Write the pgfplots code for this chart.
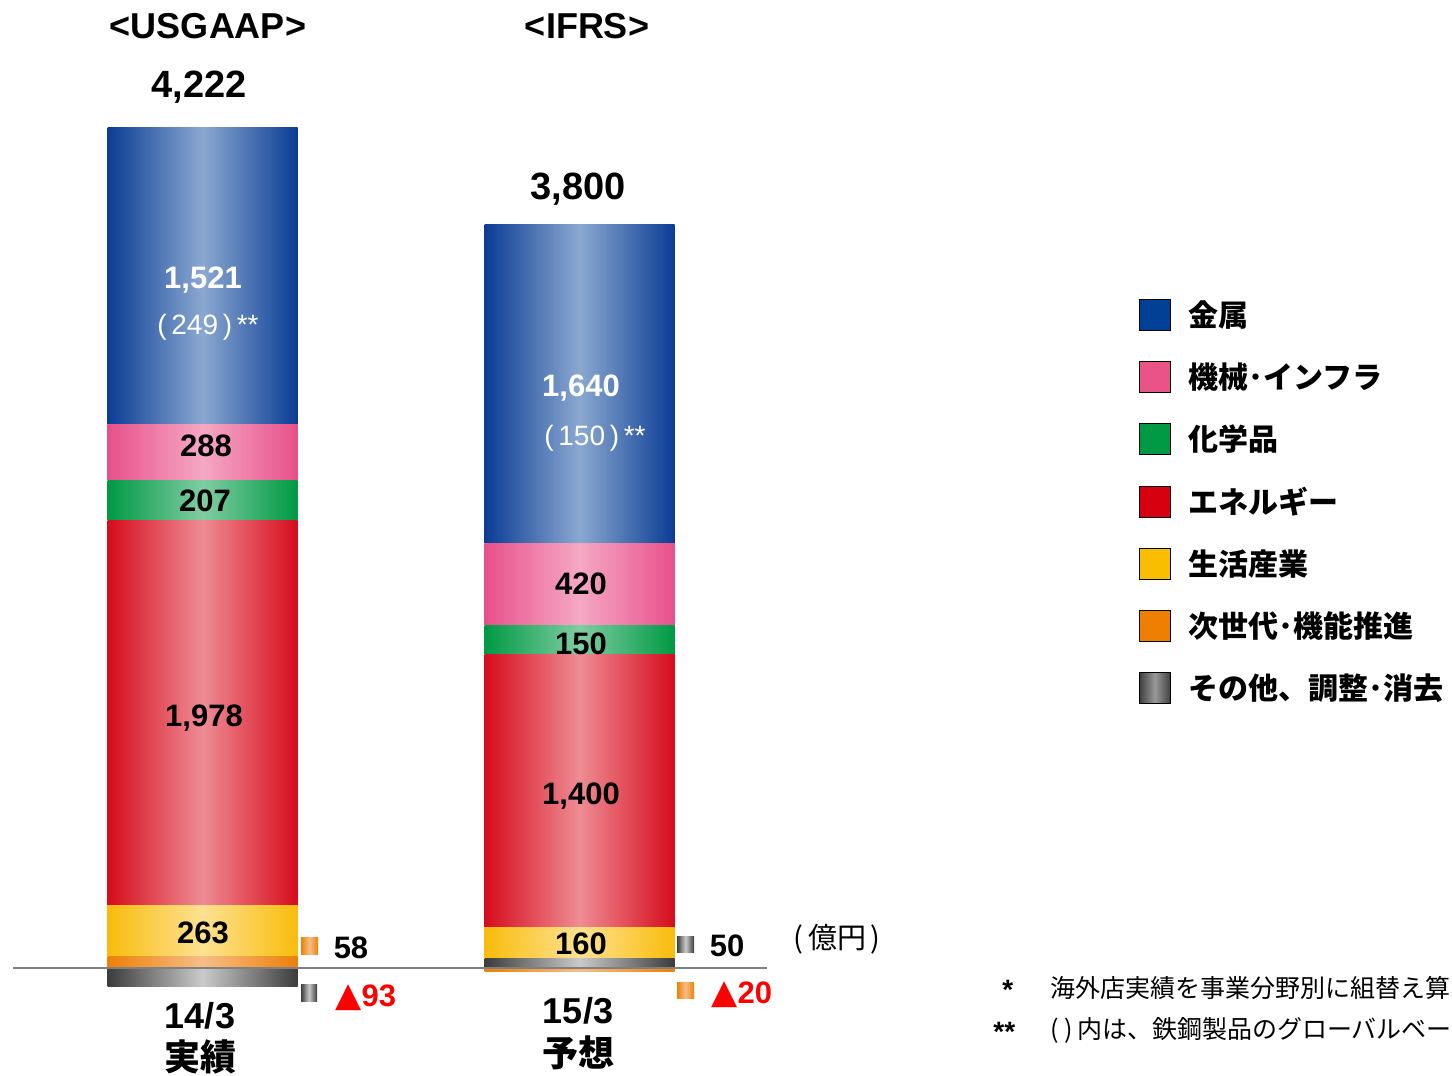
\documentclass[border=0pt]{standalone}
\usepackage{fontspec}
\setmainfont{Liberation Sans}
\newfontfamily\jp{Noto Sans CJK JP}
\newfontfamily\dejavu{DejaVu Sans}
\usepackage{pgfplots}
\pgfplotsset{compat=1.18}
\newcommand\fsz[1]{\fontsize{#1}{#1}\selectfont}
\definecolor{metE}{HTML}{0B3C95}\definecolor{metM}{HTML}{8AA8D0}
\definecolor{macE}{HTML}{E8508A}\definecolor{macM}{HTML}{F5A8C4}
\definecolor{chemE}{HTML}{009944}\definecolor{chemM}{HTML}{80CDA2}
\definecolor{engE}{HTML}{D60C1C}\definecolor{engM}{HTML}{EE8C94}
\definecolor{lifE}{HTML}{F9BC0C}\definecolor{lifM}{HTML}{FDE190}
\definecolor{nxtE}{HTML}{EE8006}\definecolor{nxtM}{HTML}{F6BE88}
\definecolor{othE}{HTML}{3C3C3C}\definecolor{othM}{HTML}{CACACA}
\definecolor{metL}{HTML}{004097}\definecolor{macL}{HTML}{E95388}
\definecolor{chemL}{HTML}{009944}\definecolor{engL}{HTML}{D7000F}
\definecolor{lifL}{HTML}{FABE00}\definecolor{nxtL}{HTML}{EE7F00}
\tikzset{sh/.style 2 args={left color=#1, right color=#1, middle color=#2, draw=none}}
\pgfplotsset{base/.style={scale only axis, width=726pt, height=538pt,
  xmin=0, xmax=1452, ymin=-555, ymax=4972, hide axis, at={(0pt,0pt)}, anchor=south west,
  clip=false, bar width=190}}
\pgfplotsset{sqlegend/.style={legend image code/.code={\path[#1] (0pt,-7.75pt) rectangle (15.5pt,7.75pt); \path (0pt,-15.35pt) (22.5pt,15.35pt);}}}
\begin{document}
\begin{tikzpicture}
\path[use as bounding box] (0pt,0pt) rectangle (726pt,538pt);
% bar 14/3, positive part
\begin{axis}[base, ybar stacked]
\addplot[sh={nxtE}{nxtM}] coordinates {(202.5,58)};
\addplot[sh={lifE}{lifM}] coordinates {(202.5,263)};
\addplot[sh={engE}{engM}] coordinates {(202.5,1978)};
\addplot[sh={chemE}{chemM}] coordinates {(202.5,207)};
\addplot[sh={macE}{macM}] coordinates {(202.5,288)};
\addplot[sh={metE}{metM}] coordinates {(202.5,1521)};
\end{axis}
% bar 15/3, positive part
\begin{axis}[base, ybar stacked]
\addplot[sh={othE}{othM}] coordinates {(579.5,50)};
\addplot[sh={lifE}{lifM}] coordinates {(579.5,160)};
\addplot[sh={engE}{engM}] coordinates {(579.5,1400)};
\addplot[sh={chemE}{chemM}] coordinates {(579.5,150)};
\addplot[sh={macE}{macM}] coordinates {(579.5,420)};
\addplot[sh={metE}{metM}] coordinates {(579.5,1640)};
\end{axis}
% negative parts, zero line, legend
\begin{axis}[base, ybar, bar shift=0pt,
  legend style={at={(0.78444,0.7362)}, anchor=north west, draw=none, fill=none,
    inner sep=0pt, outer sep=0pt, row sep=0pt, font=\jp\bfseries\fsz{15}},
  legend cell align=left, sqlegend]
\addplot[sh={othE}{othM}, forget plot] coordinates {(202.5,-93)};
\addplot[sh={nxtE}{nxtM}, forget plot] coordinates {(579.5,-20)};
\draw[color=black!50, line width=1pt] (axis cs:13,0) -- (axis cs:767,0);
\addlegendimage{fill=metL}\addlegendentry{金属}
\addlegendimage{fill=macL}\addlegendentry{機械･インフラ}
\addlegendimage{fill=chemL}\addlegendentry{化学品}
\addlegendimage{fill=engL}\addlegendentry{エネルギー}
\addlegendimage{fill=lifL}\addlegendentry{生活産業}
\addlegendimage{fill=nxtL}\addlegendentry{次世代･機能推進}
\addlegendimage{left color=black!75, right color=black!75, middle color=black!40}\addlegendentry{その他、調整･消去}
\end{axis}
\begin{scope}[x=0.5pt, y=-0.5pt, shift={(0pt,538pt)}]
\begin{scope}[every node/.style={font=\bfseries\fsz{18}, inner sep=0pt}]
\node at (208,26) {<USGAAP>};
\node at (587,26) {<IFRS>};
\node[font=\bfseries\fsz{19}] at (199,87) {4,222};
\node[font=\bfseries\fsz{19}] at (578,189) {3,800};
\node at (200,1016) {14/3};
\node at (578,1011) {15/3};
\node[font=\jp\bfseries\fsz{18}] at (200,1057) {実績};
\node[font=\jp\bfseries\fsz{18}] at (578,1053) {予想};
\end{scope}
\begin{scope}[every node/.style={font=\bfseries\fsz{15.5}, inner sep=0pt}]
\node[white] at (203,280) {1,521};
\node[white, font=\fsz{14}] at (208,327) {(\,249\,)\,**};
\node at (206,446) {288};
\node at (205,501) {207};
\node at (204,718) {1,978};
\node at (203,933) {263};
\node at (351,948) {58};
\node[red, anchor=west] at (335,998) {{\dejavu\fsz{17}▲}93};
\node[white] at (581,388) {1,640};
\node[white, font=\fsz{14}] at (595,438) {(\,150\,)\,**};
\node at (581,584) {420};
\node at (581,644) {150};
\node at (581,796) {1,400};
\node at (581,944) {160};
\node at (727,946) {50};
\node[red, anchor=west] at (711,995) {{\dejavu\fsz{17}▲}20};
\end{scope}
\path[sh={nxtE}{nxtM}] (301,938) rectangle (318,955);
\path[sh={othE}{othM}] (301,985) rectangle (317,1002);
\path[sh={othE}{othM}] (677,937) rectangle (694,953);
\path[sh={nxtE}{nxtM}] (677,983) rectangle (694,999);
\node[font=\jp\fsz{14.5}, inner sep=0pt, anchor=west] at (793,939) {(\,億円\,)};
\begin{scope}[every node/.style={font=\jp\fsz{12.5}, inner sep=0pt, anchor=west}]
\node[font=\bfseries\fsz{14}] at (1002,990) {*};
\node at (1050,988) {海外店実績を事業分野別に組替え算出};
\node[font=\bfseries\fsz{14}] at (993,1032) {**};
\node at (1050,1030) {( )\,内は、鉄鋼製品のグローバルベース};
\end{scope}
\end{scope}
\end{tikzpicture}
\end{document}
